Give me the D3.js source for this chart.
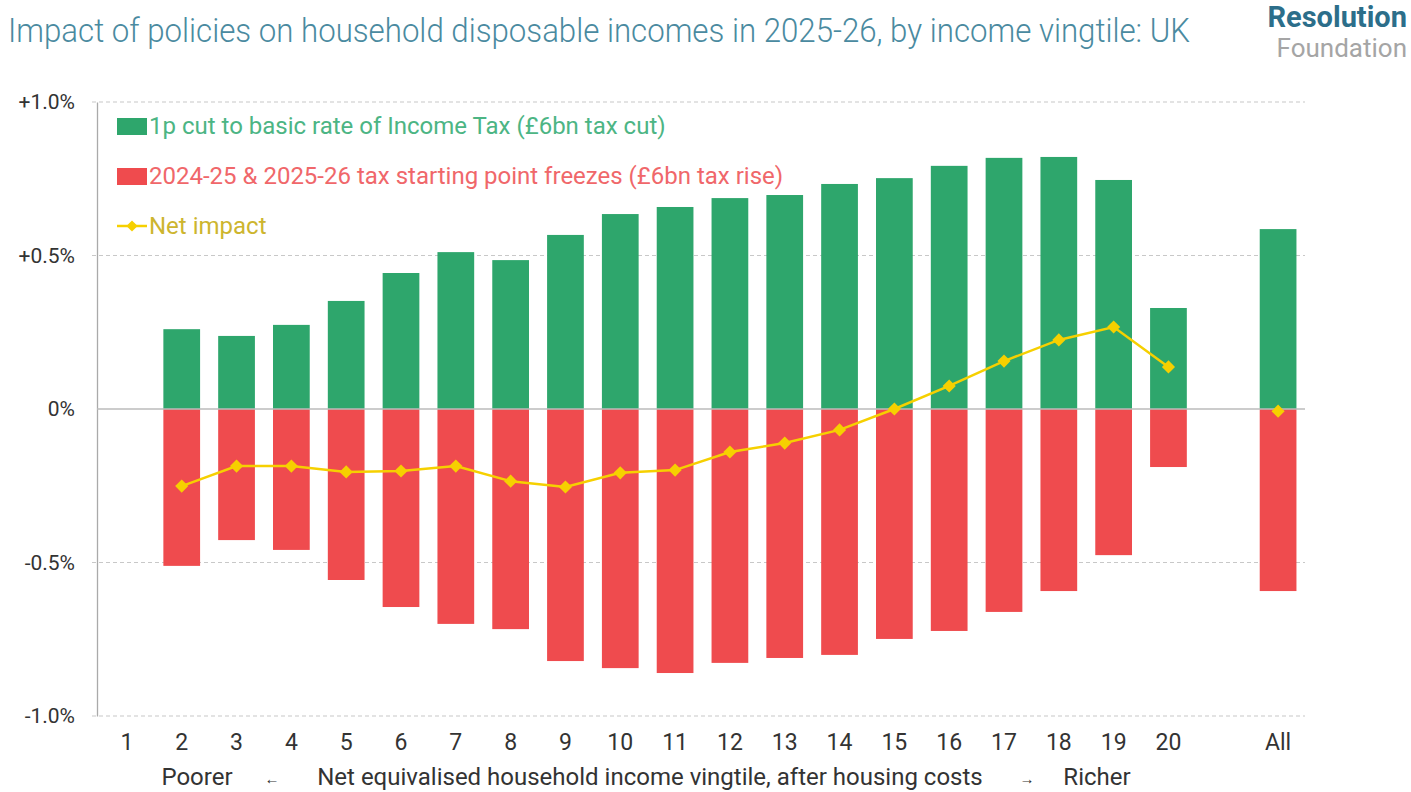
<!DOCTYPE html>
<html>
<head>
<meta charset="utf-8">
<script src="https://cdn.jsdelivr.net/npm/d3@7"></script>
<style>
  body { margin: 0; background: #fff; font-family: Roboto, sans-serif; }
  #chart svg { display: block; }
</style>
</head>
<body>
<div id="chart"></div>
<script>
// vingtiles 1..20, a gap, then All (vingtile 1 has no bar in the chart)
var categories = ["1","2","3","4","5","6","7","8","9","10","11","12","13","14","15","16","17","18","19","20","gap","All"];
var taxCut =    [null,0.26,0.238,0.274,0.352,0.443,0.511,0.485,0.567,0.635,0.658,0.687,0.697,0.733,0.752,0.792,0.818,0.821,0.746,0.329,null,0.586];
var freezes =   [null,-0.511,-0.427,-0.459,-0.557,-0.645,-0.700,-0.717,-0.821,-0.844,-0.860,-0.827,-0.811,-0.801,-0.749,-0.723,-0.661,-0.593,-0.476,-0.189,null,-0.593];
var netImpact = [null,-0.251,-0.186,-0.186,-0.205,-0.202,-0.186,-0.235,-0.254,-0.208,-0.199,-0.140,-0.111,-0.068,0.0,0.075,0.156,0.225,0.267,0.137,null,-0.007];
var yTicks = [1.0, 0.5, 0, -0.5, -1.0];
var yTickLabels = ["+1.0%", "+0.5%", "0%", "-0.5%", "-1.0%"];

var green = "#2ea66c", red = "#ef4b4e", yellow = "#f6d000";

var W = 1411, H = 792;
var svg = d3.select("#chart").append("svg").attr("width", W).attr("height", H);

var x = d3.scaleBand()
  .domain(categories)
  .range([99.5, 1305.5])
  .paddingInner(0.33)
  .paddingOuter(0.165);

var y = d3.scaleLinear().domain([-1, 1]).range([716, 102]);

// title
svg.append("text")
  .attr("x", 8).attr("y", 42)
  .attr("fill", "#4a8aa0")
  .attr("textLength", 1182).attr("lengthAdjust", "spacingAndGlyphs")
  .style("font-size", "33px").style("font-weight", 300)
  .text("Impact of policies on household disposable incomes in 2025-26, by income vingtile: UK");

// logo
svg.append("text").attr("x", 1407).attr("y", 27).attr("text-anchor", "end")
  .attr("fill", "#2c6e8a").style("font-size", "29px").style("font-weight", 700)
  .text("Resolution");
svg.append("text").attr("x", 1407).attr("y", 57).attr("text-anchor", "end")
  .attr("fill", "#a5a5a5").style("font-size", "26px").style("font-weight", 400)
  .text("Foundation");

// gridlines
svg.append("g").selectAll("line")
  .data(yTicks.filter(function(d) { return d !== 0; }))
  .enter().append("line")
  .attr("x1", 92).attr("x2", 1305)
  .attr("y1", function(d) { return y(d); }).attr("y2", function(d) { return y(d); })
  .attr("stroke", "#c8c8c8").attr("stroke-width", 1.2)
  .attr("stroke-dasharray", "4,3");

// y axis
var yAxis = svg.append("g")
  .attr("transform", "translate(97,0)")
  .call(d3.axisLeft(y).tickValues(yTicks).tickSize(0).tickPadding(22)
    .tickFormat(function(d, i) { return yTickLabels[i]; }));
yAxis.select(".domain").attr("stroke", "#aaa").attr("stroke-width", 1.3);
yAxis.selectAll("text").attr("fill", "#333").style("font-size", "21px")
  .style("font-family", "Roboto, sans-serif").attr("dy", "0.32em");

// bars
var rows = categories.map(function(c, i) {
  return { cat: c, cut: taxCut[i], freeze: freezes[i], net: netImpact[i] };
});

svg.append("g").selectAll("rect")
  .data(rows.filter(function(d) { return d.cut !== null; }))
  .enter().append("rect")
  .attr("x", function(d) { return x(d.cat); })
  .attr("width", x.bandwidth())
  .attr("y", function(d) { return y(d.cut); })
  .attr("height", function(d) { return y(0) - y(d.cut); })
  .attr("fill", green);

svg.append("g").selectAll("rect")
  .data(rows.filter(function(d) { return d.freeze !== null; }))
  .enter().append("rect")
  .attr("x", function(d) { return x(d.cat); })
  .attr("width", x.bandwidth())
  .attr("y", y(0))
  .attr("height", function(d) { return y(d.freeze) - y(0); })
  .attr("fill", red);

// zero line
svg.append("line")
  .attr("x1", 97).attr("x2", 1305)
  .attr("y1", y(0)).attr("y2", y(0))
  .attr("stroke", "#bbb").attr("stroke-width", 1.3);

// net impact line (vingtiles only), All as a lone marker
var cx = function(d) { return x(d.cat) + x.bandwidth() / 2; };
var lineRows = rows.filter(function(d) { return d.net !== null && d.cat !== "All"; });
svg.append("path")
  .datum(lineRows)
  .attr("fill", "none").attr("stroke", yellow).attr("stroke-width", 2.5)
  .attr("d", d3.line().x(cx).y(function(d) { return y(d.net); }));

svg.append("g").selectAll("path")
  .data(rows.filter(function(d) { return d.net !== null; }))
  .enter().append("path")
  .attr("d", d3.symbol().type(d3.symbolDiamond2).size(110))
  .attr("transform", function(d) { return "translate(" + cx(d) + "," + y(d.net) + ")"; })
  .attr("fill", yellow);

// x axis labels
var xAxis = svg.append("g")
  .attr("transform", "translate(0,734)")
  .call(d3.axisBottom(x).tickSize(0).tickPadding(0)
    .tickFormat(function(d) { return d === "gap" ? "" : d; }));
xAxis.select(".domain").remove();
xAxis.selectAll("text").attr("fill", "#333").style("font-size", "23px")
  .style("font-family", "Roboto, sans-serif").attr("dy", "0.71em");

// axis title
svg.append("text").attr("x", 197).attr("y", 785).attr("text-anchor", "middle")
  .attr("fill", "#333").style("font-size", "24px").text("Poorer");
svg.append("text").attr("x", 272).attr("y", 784).attr("text-anchor", "middle")
  .attr("fill", "#333").style("font-size", "15px").text("←");
svg.append("text").attr("x", 650).attr("y", 785).attr("text-anchor", "middle")
  .attr("fill", "#333").style("font-size", "24px")
  .text("Net equivalised household income vingtile, after housing costs");
svg.append("text").attr("x", 1027).attr("y", 784).attr("text-anchor", "middle")
  .attr("fill", "#333").style("font-size", "15px").text("→");
svg.append("text").attr("x", 1097).attr("y", 785).attr("text-anchor", "middle")
  .attr("fill", "#333").style("font-size", "24px").text("Richer");

// legend
var legend = [
  { label: "1p cut to basic rate of Income Tax (£6bn tax cut)", color: green, text: "#4cb584", type: "bar" },
  { label: "2024-25 & 2025-26 tax starting point freezes (£6bn tax rise)", color: red, text: "#f0676a", type: "bar" },
  { label: "Net impact", color: yellow, text: "#cdb52e", type: "line" }
];
var lg = svg.append("g").selectAll("g").data(legend).enter().append("g")
  .attr("transform", function(d, i) { return "translate(117," + (126 + i * 50) + ")"; });
lg.filter(function(d) { return d.type === "bar"; }).append("rect")
  .attr("x", 0).attr("y", -8).attr("width", 30).attr("height", 17).attr("fill", function(d) { return d.color; });
lg.filter(function(d) { return d.type === "line"; }).append("line")
  .attr("x1", 0).attr("x2", 30).attr("y1", 0).attr("y2", 0)
  .attr("stroke", yellow).attr("stroke-width", 2.5);
lg.filter(function(d) { return d.type === "line"; }).append("path")
  .attr("d", d3.symbol().type(d3.symbolDiamond2).size(80))
  .attr("transform", "translate(15,0)").attr("fill", yellow);
lg.append("text").attr("x", 32).attr("dy", "0.35em")
  .attr("fill", function(d) { return d.text; })
  .style("font-size", "24px")
  .text(function(d) { return d.label; });
</script>
</body>
</html>
